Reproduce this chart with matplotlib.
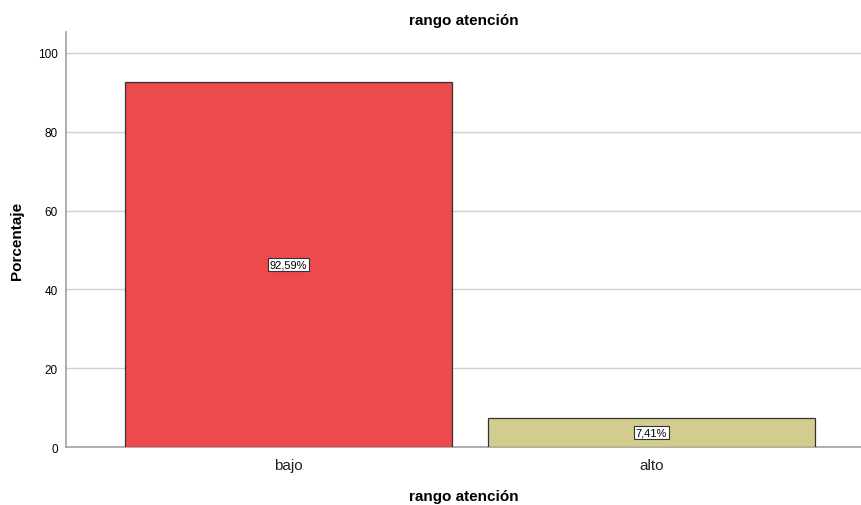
import matplotlib
matplotlib.use("Agg")
import matplotlib.pyplot as plt

plt.rcParams["font.family"] = ["Liberation Sans", "DejaVu Sans"]

categorias = ["bajo", "alto"]
porcentajes = [92.59, 7.41]
colores = ["#EC4A4C", "#D2CC8E"]
etiquetas = ["92,59%", "7,41%"]

fig = plt.figure(figsize=(8.61, 5.06), dpi=100)
ax = fig.add_axes([0.0767, 0.1146, 0.9233, 0.8202])

x = range(len(categorias))
ax.bar(x, porcentajes, width=0.9, color=colores, edgecolor="#333333", linewidth=0.9, zorder=3)

for xi, v, lab in zip(x, porcentajes, etiquetas):
    ax.text(xi, v / 2, lab, ha="center", va="center", fontsize=8, zorder=4,
            bbox=dict(boxstyle="square,pad=0.15", facecolor="white", edgecolor="#333333", linewidth=0.8))

ax.set_xlim(-0.613, 1.577)
ax.set_ylim(0, 105.3)
ax.set_yticks([0, 20, 40, 60, 80, 100])
ax.set_xticks(list(x))
ax.set_xticklabels(categorias, fontsize=11, color="#222222")
ax.tick_params(axis="y", length=0, labelsize=8.5, pad=6)
ax.tick_params(axis="x", length=0, pad=8)
ax.yaxis.grid(True, color="#D0D0D0", linewidth=1.0, zorder=0)

for s in ["top", "right"]:
    ax.spines[s].set_visible(False)
for s in ["left", "bottom"]:
    ax.spines[s].set_color("#A0A0A0")
    ax.spines[s].set_linewidth(1.2)

ax.set_title("rango atención", fontsize=11, fontweight="bold", pad=6)
ax.set_xlabel("rango atención", fontsize=11, fontweight="bold", labelpad=12)
ax.set_ylabel("Porcentaje", fontsize=11, fontweight="bold", labelpad=10)

fig.savefig("out.png", dpi=100)
